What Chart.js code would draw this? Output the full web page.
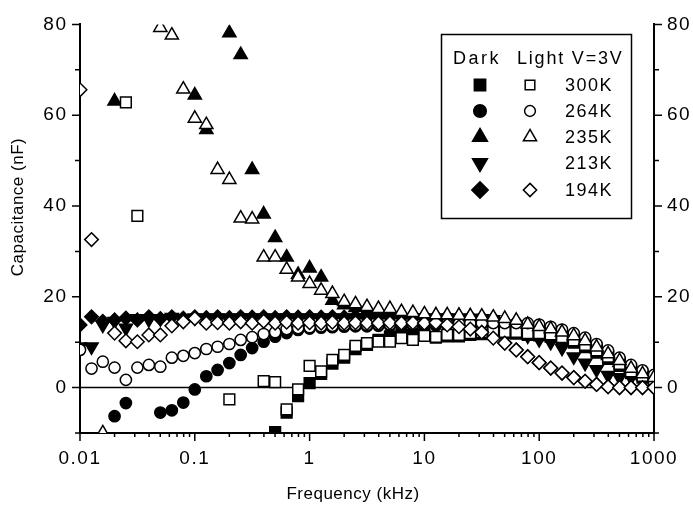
<!DOCTYPE html>
<html>
<head>
<meta charset="utf-8">
<title>Capacitance vs Frequency</title>
<script src="https://cdn.jsdelivr.net/npm/chart.js"></script>
<style>
  body { margin: 0; background: #fff; }
</style>
</head>
<body>
<canvas id="capChart" width="693" height="507"></canvas>
<script>
// measured frequencies, 10 per decade (kHz)
const freqs = [
  0.01, 0.0126, 0.0158, 0.02, 0.0251, 0.0316, 0.0398, 0.0501, 0.0631, 0.0794,
  0.1, 0.126, 0.158, 0.2, 0.251, 0.316, 0.398, 0.501, 0.631, 0.794,
  1, 1.26, 1.58, 2, 2.51, 3.16, 3.98, 5.01, 6.31, 7.94,
  10, 12.6, 15.8, 20, 25.1, 31.6, 39.8, 50.1, 63.1, 79.4,
  100, 126, 158, 200, 251, 316, 398, 501, 631, 794, 1000
];

// capacitance (nF), null = not on the plot
const dark300 = [
  null, null, null, null, null, null, null, null, null, null,
  null, null, null, null, null, null, null, -9.8, -5.5, -1.9,
  1.0, 3.0, 5.3, 6.6, 8.5, 9.4, 10.5, 11.3, 11.6, 11.6,
  11.8, 11.0, 11.3, 11.3, 11.6, 11.8, 11.9, 12.0, 11.9, 11.6,
  11.5, 11.2, 10.6, 9.9, 8.9, 7.7, 6.3, 4.8, 3.2, 2.2, 1.5
];
const light300 = [
  null, null, null, null, 62.8, 37.8, null, null, null, null,
  null, null, null, -2.6, null, null, 1.4, 1.2, -4.8, -0.4,
  4.8, 3.6, 6.1, 7.2, 9.2, 9.8, 10.1, 10.1, 10.9, 10.5,
  11.4, 11.2, 11.6, 11.6, 12.0, 12.2, 12.3, 12.3, 12.3, 12.0,
  12.0, 11.7, 11.1, 10.4, 9.4, 8.2, 6.8, 5.2, 3.6, 2.6, 1.8
];
const dark264 = [
  null, null, null, -6.3, -3.4, null, null, -5.5, -5.0, -3.3,
  -0.4, 2.5, 3.9, 5.4, 7.2, 8.7, 10.1, 11.2, 12.0, 12.7,
  13.0, 13.2, 13.3, 13.4, 13.5, 13.5, 13.6, 13.6, 13.6, 13.7,
  13.7, 13.7, 13.8, 13.8, 13.8, 13.8, 13.8, 13.9, 13.9, 13.9,
  13.6, 13.1, 12.5, 11.7, 10.7, 9.3, 7.9, 6.3, 4.7, 3.5, 2.5
];
const light264 = [
  8.3, 4.2, 5.7, 4.4, 1.7, 4.4, 5.0, 4.6, 6.6, 7.0,
  7.6, 8.5, 9.0, 9.6, 10.5, 11.1, 11.8, 12.2, 12.9, 13.1,
  13.3, 13.5, 13.6, 13.7, 13.8, 13.8, 13.9, 13.9, 14.0, 14.0,
  14.0, 14.1, 14.1, 14.1, 14.2, 14.2, 14.2, 14.2, 14.2, 14.2,
  13.9, 13.4, 12.8, 12.0, 11.0, 9.6, 8.2, 6.6, 5.0, 3.8, 2.8
];
const dark235 = [
  null, null, null, 63.1, null, null, null, null, null, null,
  64.4, 56.8, null, 78.1, 73.3, 48.0, 38.2, 33.0, 28.7, 24.9,
  26.3, 24.3, 19.2, 18.2, 17.6, 16.8, 16.5, 16.3, 16.2, 16.0,
  15.9, 15.8, 15.7, 15.7, 15.6, 15.5, 15.3, 15.0, 14.5, 13.5,
  13.0, 12.5, 11.8, 11.0, 9.9, 8.5, 7.0, 5.5, 3.8, 2.6, 1.9
];
const light235 = [
  null, null, -10, null, null, null, null, 79.3, 77.6, 65.7,
  59.3, 57.9, 48.0, 45.8, 37.3, 37.1, 28.7, 28.7, 26.0, 24.3,
  22.9, 21.4, 20.7, 18.9, 18.4, 17.8, 17.4, 17.4, 16.7, 16.5,
  16.2, 16.0, 16.0, 15.9, 15.8, 15.7, 15.5, 15.2, 14.8, 13.9,
  13.4, 12.9, 12.2, 11.4, 10.3, 8.9, 7.4, 5.9, 4.2, 3.0, 2.2
];
const dark213 = [
  9.0, 9.0, 13.8, 14.6, 13.1, 15.2, 15.0, 15.2, 15.5, 15.2,
  15.4, 15.3, 15.4, 15.3, 15.4, 15.4, 15.3, 15.4, 15.4, 15.3,
  15.4, 15.3, 15.4, 15.3, 15.4, 15.3, 15.4, 15.3, 15.4, 15.3,
  15.4, 15.3, 15.4, 15.3, 15.3, 15.2, 15.0, 14.0, 12.6, 11.4,
  10.6, 10.0, 8.7, 6.8, 5.4, 4.0, 2.7, 2.2, 2.2, 2.0, 1.8
];
const light194 = [
  65.6, 32.6, null, 12.0, 10.3, 10.1, 11.6, 11.6, 13.6, 14.5,
  15.2, 14.2, 14.3, 14.2, 14.5, 14.2, 14.6, 14.2, 14.4, 14.2,
  14.3, 14.2, 14.4, 14.2, 14.3, 14.2, 14.2, 14.3, 14.2, 14.3,
  14.2, 14.3, 13.8, 13.4, 12.9, 12.2, 10.9, 9.8, 8.3, 6.8,
  5.5, 4.3, 3.2, 2.2, 1.4, 0.7, 0.2, 0, 0, 0, 0
];
const dark194 = [
  13.8, 15.6, 14.6, 14.9, 15.3, 14.9, 15.6, 15.2, 15.6, 15.3,
  15.6, 15.4, 15.6, 15.4, 15.6, 15.5, 15.6, 15.4, 15.6, 15.5,
  15.6, 15.5, 15.6, 15.5, 15.6, 15.5, 15.6, 15.5, 15.6, 15.5,
  15.6, 15.5, 15.6, 15.5, 15.5, 15.4, 15.2, 9.8, 8.3, 6.8,
  5.5, 4.3, 3.2, 2.2, 1.4, 0.7, 0.2, 0, 0, 0, 0
];

const xTickVals = [0.01, 0.1, 1, 10, 100, 1000];
const xTickLabels = ['0.01', '0.1', '1', '10', '100', '1000'];
const yTickVals = [0, 20, 40, 60, 80];
const yTickLabels = ['0', '20', '40', '60', '80'];

const temps = ['300K', '264K', '235K', '213K', '194K'];

const FONT = 'Liberation Sans, Arial, Helvetica, sans-serif';

function pts(vals) {
  return freqs.map((f, i) => ({ x: f, y: vals[i] })).filter(p => p.y !== null);
}

// marker look per temperature
const markers = {
  '300K': { style: 'rect', rot: 0, r: 7.6 },
  '264K': { style: 'circle', rot: 0, r: 5.6 },
  '235K': { style: 'triangle', rot: 0, r: 7.6 },
  '213K': { style: 'triangle', rot: 180, r: 7.6 },
  '194K': { style: 'rectRot', rot: 0, r: 6.8 }
};

function ds(temp, vals, filled, order) {
  const m = markers[temp];
  return {
    label: (filled ? 'Dark ' : 'Light ') + temp,
    data: pts(vals),
    pointStyle: m.style,
    rotation: m.rot,
    pointRadius: m.r,
    pointBorderWidth: 1.5,
    pointBorderColor: '#000',
    pointBackgroundColor: filled ? '#000' : '#fff',
    showLine: false,
    clip: 0,
    order: order
  };
}

// small marker painter for the legend box
function drawMarker(ctx, style, rot, x, y, r, filled) {
  ctx.save();
  ctx.beginPath();
  if (style === 'circle') {
    ctx.arc(x, y, r, 0, Math.PI * 2);
  } else if (style === 'rect') {
    const s = r * Math.SQRT1_2;
    ctx.rect(x - s, y - s, 2 * s, 2 * s);
  } else if (style === 'rectRot') {
    ctx.moveTo(x, y - r); ctx.lineTo(x + r, y); ctx.lineTo(x, y + r); ctx.lineTo(x - r, y);
    ctx.closePath();
  } else if (style === 'triangle') {
    let a = rot * Math.PI / 180;
    for (let i = 0; i < 3; i++) {
      const px = x + Math.sin(a) * r, py = y - Math.cos(a) * r;
      if (i === 0) ctx.moveTo(px, py); else ctx.lineTo(px, py);
      a += 2 * Math.PI / 3;
    }
    ctx.closePath();
  }
  ctx.fillStyle = filled ? '#000' : '#fff';
  ctx.fill();
  ctx.lineWidth = 1.5;
  ctx.strokeStyle = '#000';
  ctx.stroke();
  ctx.restore();
}

// legend marker sizes: [filled, open]
const legendSize = {
  rect: [8, 6.8],
  circle: [6.3, 5.4],
  triangle: [8.6, 7.6],
  rectRot: [8.2, 6.6]
};

const decorations = {
  id: 'decorations',
  beforeDraw(chart) {
    // the printed lettering runs wide
    chart.ctx.letterSpacing = '1.5px';
  },
  beforeDatasetsDraw(chart) {
    const { ctx, chartArea, scales } = chart;
    const y0 = scales.y.getPixelForValue(0);
    ctx.save();
    ctx.strokeStyle = '#000';
    ctx.lineWidth = 1.5;
    ctx.beginPath();
    ctx.moveTo(chartArea.left, y0);
    ctx.lineTo(chartArea.right, y0);
    ctx.stroke();
    ctx.restore();
  },
  afterDraw(chart) {
    const { ctx, chartArea, scales } = chart;
    const xs = scales.x, ys = scales.y;
    ctx.save();
    ctx.strokeStyle = '#000';
    ctx.lineWidth = 1.5;
    ctx.beginPath();
    // bottom axis: decade and in-between ticks
    for (let d = 0.01; d < 1000; d *= 10) {
      for (let m = 1; m < 10; m++) {
        const px = xs.getPixelForValue(d * m);
        const len = m === 1 ? 8 : 4;
        ctx.moveTo(px, chartArea.bottom);
        ctx.lineTo(px, chartArea.bottom + len);
      }
    }
    const pr = xs.getPixelForValue(1000);
    ctx.moveTo(pr, chartArea.bottom);
    ctx.lineTo(pr, chartArea.bottom + 8);
    // left and right axes, every 10 nF
    for (let v = -10; v <= 80; v += 10) {
      const py = ys.getPixelForValue(v);
      const len = v % 20 === 0 ? 8 : 5;
      ctx.moveTo(chartArea.left, py);
      ctx.lineTo(chartArea.left - len, py);
      ctx.moveTo(chartArea.right, py);
      ctx.lineTo(chartArea.right + len, py);
    }
    ctx.stroke();

    // axis titles
    ctx.fillStyle = '#000';
    ctx.letterSpacing = '0.5px';
    ctx.font = '17px ' + FONT;
    ctx.textAlign = 'center';
    ctx.textBaseline = 'middle';
    ctx.fillText('Frequency (kHz)', 353, 494);
    ctx.save();
    ctx.translate(18, 207);
    ctx.rotate(-Math.PI / 2);
    ctx.fillText('Capacitance (nF)', 0, 0);
    ctx.restore();

    // legend box
    const bx = 441, by = 34, bw = 190, bh = 184;
    ctx.lineWidth = 1.5;
    ctx.strokeRect(bx + 0.5, by + 0.5, bw, bh);
    ctx.font = '18px ' + FONT;
    ctx.textBaseline = 'middle';
    ctx.textAlign = 'left';
    ctx.letterSpacing = '2.5px';
    ctx.fillText('Dark', 453, 59);
    ctx.letterSpacing = '1.8px';
    ctx.fillText('Light V=3V', 517, 59);
    ctx.letterSpacing = '1.5px';
    const rowY = [85, 111, 137, 163, 190];
    temps.forEach((t, i) => {
      const m = markers[t];
      const y = rowY[i];
      const sz = legendSize[m.style];
      drawMarker(ctx, m.style, m.rot, 480, y, sz[0], true);
      if (t !== '213K') {
        drawMarker(ctx, m.style, m.rot, 530, y, sz[1], false);
      }
      ctx.fillText(t, 565, y + 1);
    });
    ctx.restore();
  }
};

const tickFont = { family: FONT, size: 19 };

new Chart(document.getElementById('capChart'), {
  type: 'scatter',
  data: {
    datasets: [
      ds('235K', light235, false, 1),
      ds('194K', light194, false, 2),
      ds('264K', light264, false, 3),
      ds('300K', light300, false, 4),
      ds('194K', dark194, true, 5),
      ds('213K', dark213, true, 6),
      ds('235K', dark235, true, 7),
      ds('264K', dark264, true, 8),
      ds('300K', dark300, true, 9)
    ]
  },
  options: {
    responsive: false,
    animation: false,
    events: [],
    layout: { padding: { top: 22, left: 0, right: 0, bottom: 0 } },
    plugins: { legend: { display: false }, tooltip: { enabled: false } },
    scales: {
      x: {
        type: 'logarithmic',
        position: 'bottom',
        min: 0.01,
        max: 1000,
        grid: { display: false, drawTicks: false },
        border: { display: true, color: '#000', width: 2 },
        afterBuildTicks: s => { s.ticks = xTickVals.map(v => ({ value: v })); },
        afterFit: s => { s.height = 74; },
        ticks: {
          font: tickFont, color: '#000', padding: 14, maxRotation: 0, autoSkip: false,
          callback: (v, i) => xTickLabels[i]
        }
      },
      y: {
        type: 'linear',
        position: 'left',
        min: -10,
        max: 80,
        grid: { display: false, drawTicks: false },
        border: { display: true, color: '#000', width: 2 },
        afterBuildTicks: s => { s.ticks = yTickVals.map(v => ({ value: v })); },
        afterFit: s => { s.width = 80; },
        ticks: { font: tickFont, color: '#000', padding: 12.5, callback: (v, i) => yTickLabels[i] }
      },
      y2: {
        type: 'linear',
        position: 'right',
        min: -10,
        max: 80,
        grid: { display: false, drawTicks: false },
        border: { display: true, color: '#000', width: 2 },
        afterBuildTicks: s => { s.ticks = yTickVals.map(v => ({ value: v })); },
        afterFit: s => { s.width = 39; },
        ticks: { font: tickFont, color: '#000', padding: 13, callback: (v, i) => yTickLabels[i] }
      }
    }
  },
  plugins: [decorations]
});
</script>
</body>
</html>
